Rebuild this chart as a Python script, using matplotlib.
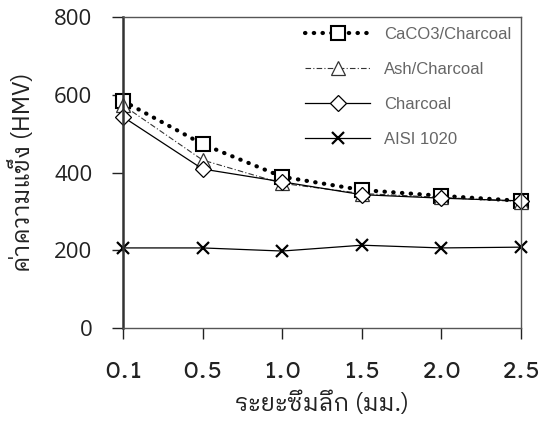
import matplotlib
matplotlib.use("Agg")
import matplotlib.pyplot as plt

# depth of case hardening (mm) and hardness values (HMV)
depth = ["0.1", "0.5", "1.0", "1.5", "2.0", "2.5"]
caco3 = [584, 473, 389, 355, 340, 327]
ash = [573, 432, 372, 346, 336, 325]
charcoal = [543, 409, 376, 343, 334, 327]
aisi = [206, 206, 198, 213, 206, 208]

thai = ["IBM Plex Sans Thai Looped", "Noto Sans Thai Looped", "Liberation Sans"]

fig = plt.figure(figsize=(5.41, 4.25), dpi=100)
ax = fig.add_axes([0.2274, 0.2282, 0.7356, 0.7318])

x = range(len(depth))
ax.plot(x, caco3, linestyle=(0, (0.1, 2)), dash_capstyle="round", linewidth=3,
        color="black", marker="s", markersize=10, markerfacecolor="white",
        markeredgecolor="black", markeredgewidth=1.5, label="CaCO3/Charcoal",
        clip_on=False)
ax.plot(x, ash, linestyle=(0, (5, 2, 1, 2)), linewidth=0.8, color="#333333",
        marker="^", markersize=10, markerfacecolor="white",
        markeredgecolor="#333333", markeredgewidth=0.9, label="Ash/Charcoal",
        clip_on=False)
ax.plot(x, charcoal, linestyle="-", linewidth=0.9, color="black",
        marker="D", markersize=8, markerfacecolor="white",
        markeredgecolor="black", markeredgewidth=0.9, label="Charcoal",
        clip_on=False)
ax.plot(x, aisi, linestyle="-", linewidth=0.9, color="black",
        marker="x", markersize=8, markeredgewidth=1.6, label="AISI 1020",
        clip_on=False)

ax.set_xlim(0, len(depth) - 1)
ax.set_ylim(0, 800)
ax.set_yticks([0, 200, 400, 600, 800])
ax.set_xticks(list(x))
ax.set_xticklabels(depth, family=["Lexend Giga", "Liberation Sans"],
                   fontweight="light", fontsize=16)
for lab in ax.get_yticklabels():
    lab.set_fontfamily("Open Sans")
    lab.set_fontsize(16)

ax.tick_params(axis="x", direction="out", length=8, width=1, pad=16, colors="#222222")
ax.tick_params(axis="y", direction="out", length=8, width=1, pad=14, colors="#222222")
for s in ["top", "right", "bottom"]:
    ax.spines[s].set_color("#555555")
    ax.spines[s].set_linewidth(1)
ax.spines["left"].set_color("#333333")
ax.spines["left"].set_linewidth(1.8)

ax.set_xlabel("ระยะซึมลึก (มม.)", family=thai, fontsize=17,
              color="#222222", labelpad=6)
ax.set_ylabel("ค่าความแข็ง (HMV)", family=thai, fontsize=17,
              color="#222222", labelpad=14)

leg = ax.legend(loc="upper right", bbox_to_anchor=(1.0, 1.0), frameon=False,
                handlelength=3.9, handletextpad=0.8, labelspacing=1.2,
                borderaxespad=0.2, prop={"family": "Liberation Sans", "size": 12})
for t in leg.get_texts():
    t.set_color("#666666")

fig.savefig("out.png", dpi=100)
